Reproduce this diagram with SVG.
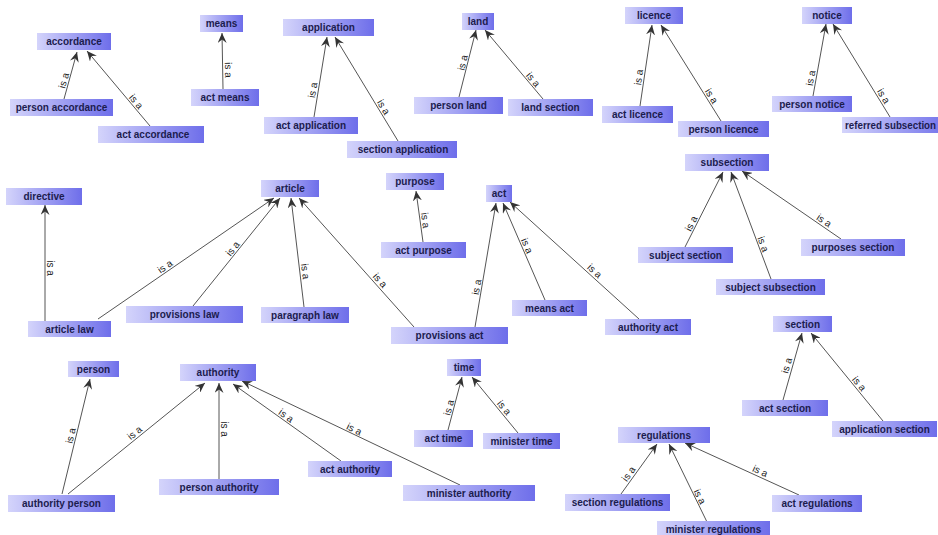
<svg xmlns="http://www.w3.org/2000/svg" width="938" height="535" viewBox="0 0 938 535">
<defs>
<linearGradient id="g" x1="0" y1="0" x2="1" y2="0">
<stop offset="0" stop-color="#d4d4fb"/>
<stop offset="1" stop-color="#6e6eea"/>
</linearGradient>
<marker id="arr" viewBox="0 0 10 9" refX="10" refY="4.5" markerWidth="10" markerHeight="9" markerUnits="userSpaceOnUse" orient="auto">
<path d="M0,0 L10,4.5 L0,9 L3.5,4.5 z" fill="#333"/>
</marker>
<style>
.n rect{fill:url(#g)}
.n text{font-family:"Liberation Sans",Arial,sans-serif;font-size:10px;font-weight:bold;fill:#1c1c4e;text-anchor:middle}
#edges line{stroke:#555;stroke-width:1;marker-end:url(#arr)}
#edges text{font-family:"Liberation Sans",Arial,sans-serif;font-size:10px;fill:#222;text-anchor:middle}
</style>
</defs>
<rect width="938" height="535" fill="#fff"/>
<g id="edges">
<line x1="64" y1="99" x2="77" y2="52"/><text transform="translate(69,82) rotate(-74.5)" y="-2">is a</text>
<line x1="150" y1="126" x2="87" y2="51"/><text transform="translate(132,105) rotate(50)" y="-2">is a</text>
<line x1="223" y1="89" x2="222" y2="33"/><text transform="translate(223,70) rotate(89)" y="-2">is a</text>
<line x1="314" y1="117" x2="327" y2="37"/><text transform="translate(318,91) rotate(-80.8)" y="-2">is a</text>
<line x1="398" y1="141" x2="335" y2="37"/><text transform="translate(379,110) rotate(58.8)" y="-2">is a</text>
<line x1="459" y1="97" x2="476" y2="30"/><text transform="translate(468,64) rotate(-75.8)" y="-2">is a</text>
<line x1="543" y1="99" x2="485" y2="30"/><text transform="translate(529,83) rotate(50)" y="-2">is a</text>
<line x1="640" y1="106" x2="652" y2="25"/><text transform="translate(644,78) rotate(-81.6)" y="-2">is a</text>
<line x1="721" y1="121" x2="661" y2="25"/><text transform="translate(707,99) rotate(58)" y="-2">is a</text>
<line x1="813" y1="96" x2="826" y2="24"/><text transform="translate(816,79) rotate(-79.8)" y="-2">is a</text>
<line x1="890" y1="117" x2="833" y2="24"/><text transform="translate(879,99) rotate(58.5)" y="-2">is a</text>
<line x1="45" y1="321" x2="45" y2="205"/><text transform="translate(45,268) rotate(90)" y="-2">is a</text>
<line x1="98" y1="319" x2="274" y2="198"/><text transform="translate(168,271) rotate(-34.5)" y="-2">is a</text>
<line x1="193" y1="306" x2="280" y2="198"/><text transform="translate(237,252) rotate(-51.1)" y="-2">is a</text>
<line x1="304" y1="307" x2="291" y2="198"/><text transform="translate(300,272) rotate(83.2)" y="-2">is a</text>
<line x1="414" y1="327" x2="299" y2="198"/><text transform="translate(376,284) rotate(48.3)" y="-2">is a</text>
<line x1="423" y1="242" x2="416" y2="191"/><text transform="translate(420,221) rotate(82.2)" y="-2">is a</text>
<line x1="475" y1="327" x2="496" y2="203"/><text transform="translate(482,288) rotate(-80.4)" y="-2">is a</text>
<line x1="545" y1="300" x2="503" y2="203"/><text transform="translate(522,248) rotate(66.6)" y="-2">is a</text>
<line x1="639" y1="319" x2="510" y2="202"/><text transform="translate(591,275) rotate(42.2)" y="-2">is a</text>
<line x1="685" y1="247" x2="723" y2="172"/><text transform="translate(696,226) rotate(-63.1)" y="-2">is a</text>
<line x1="771" y1="279" x2="731" y2="172"/><text transform="translate(758,246) rotate(69.5)" y="-2">is a</text>
<line x1="841" y1="239" x2="742" y2="171"/><text transform="translate(821,225) rotate(34.5)" y="-2">is a</text>
<line x1="783" y1="400" x2="802" y2="333"/><text transform="translate(792,367) rotate(-74.2)" y="-2">is a</text>
<line x1="883" y1="421" x2="811" y2="333"/><text transform="translate(855,387) rotate(50.7)" y="-2">is a</text>
<line x1="621" y1="494" x2="657" y2="444"/><text transform="translate(633,477) rotate(-54.2)" y="-2">is a</text>
<line x1="707" y1="522" x2="669" y2="444"/><text transform="translate(695,499) rotate(64)" y="-2">is a</text>
<line x1="799" y1="495" x2="685" y2="443"/><text transform="translate(758,476) rotate(24.5)" y="-2">is a</text>
<line x1="62" y1="494" x2="90" y2="379"/><text transform="translate(76,437) rotate(-76.3)" y="-2">is a</text>
<line x1="68" y1="494" x2="205" y2="383"/><text transform="translate(138,437) rotate(-39)" y="-2">is a</text>
<line x1="219" y1="479" x2="219" y2="383"/><text transform="translate(219,429) rotate(90)" y="-2">is a</text>
<line x1="341" y1="461" x2="233" y2="384"/><text transform="translate(283,420) rotate(35.5)" y="-2">is a</text>
<line x1="460" y1="485" x2="242" y2="381"/><text transform="translate(352,434) rotate(25.5)" y="-2">is a</text>
<line x1="448" y1="430" x2="462" y2="377"/><text transform="translate(454,409) rotate(-75.2)" y="-2">is a</text>
<line x1="518" y1="433" x2="472" y2="377"/><text transform="translate(500,411) rotate(50.6)" y="-2">is a</text>
</g>
<g id="n-accordance" class="n"><rect x="37" y="33" width="74" height="17"/><text x="74" y="45">accordance</text></g>
<g id="n-means" class="n"><rect x="200" y="15" width="43" height="17"/><text x="221.5" y="27">means</text></g>
<g id="n-application" class="n"><rect x="283" y="19" width="91" height="17"/><text x="328.5" y="31">application</text></g>
<g id="n-land" class="n"><rect x="462" y="13" width="32" height="17"/><text x="478" y="25">land</text></g>
<g id="n-licence" class="n"><rect x="625" y="7" width="58" height="17"/><text x="654" y="19">licence</text></g>
<g id="n-notice" class="n"><rect x="802" y="7" width="50" height="17"/><text x="827" y="19">notice</text></g>
<g id="n-person-accordance" class="n"><rect x="10" y="99" width="103" height="17"/><text x="61.5" y="111">person accordance</text></g>
<g id="n-act-accordance" class="n"><rect x="98" y="126" width="106" height="17"/><text x="153" y="138">act accordance</text></g>
<g id="n-act-means" class="n"><rect x="191" y="89" width="68" height="17"/><text x="225" y="101">act means</text></g>
<g id="n-act-application" class="n"><rect x="264" y="117" width="94" height="17"/><text x="311" y="129">act application</text></g>
<g id="n-section-application" class="n"><rect x="347" y="141" width="110" height="17"/><text x="403" y="153">section application</text></g>
<g id="n-person-land" class="n"><rect x="414" y="97" width="89" height="17"/><text x="458.5" y="109">person land</text></g>
<g id="n-land-section" class="n"><rect x="508" y="99" width="85" height="17"/><text x="550.5" y="111">land section</text></g>
<g id="n-act-licence" class="n"><rect x="602" y="106" width="71" height="17"/><text x="637.5" y="118">act licence</text></g>
<g id="n-person-licence" class="n"><rect x="678" y="121" width="91" height="16"/><text x="723.5" y="132.5">person licence</text></g>
<g id="n-person-notice" class="n"><rect x="772" y="96" width="80" height="16"/><text x="812" y="107.5">person notice</text></g>
<g id="n-referred-subsection" class="n"><rect x="842" y="117" width="110" height="16"/><text x="845" y="128.5" style="text-anchor:start" textLength="91" lengthAdjust="spacingAndGlyphs">referred subsection</text></g>
<g id="n-directive" class="n"><rect x="6" y="188" width="76" height="17"/><text x="44" y="200">directive</text></g>
<g id="n-article" class="n"><rect x="261" y="180" width="58" height="17"/><text x="290" y="192">article</text></g>
<g id="n-purpose" class="n"><rect x="386" y="173" width="58" height="17"/><text x="415" y="185">purpose</text></g>
<g id="n-act" class="n"><rect x="486" y="185" width="26" height="17"/><text x="499" y="197">act</text></g>
<g id="n-subsection" class="n"><rect x="685" y="154" width="84" height="17"/><text x="727" y="166">subsection</text></g>
<g id="n-article-law" class="n"><rect x="28" y="321" width="83" height="16"/><text x="69.5" y="332.5">article law</text></g>
<g id="n-provisions-law" class="n"><rect x="126" y="306" width="117" height="17"/><text x="184.5" y="318">provisions law</text></g>
<g id="n-paragraph-law" class="n"><rect x="261" y="307" width="88" height="16"/><text x="305" y="318.5">paragraph law</text></g>
<g id="n-provisions-act" class="n"><rect x="391" y="327" width="117" height="17"/><text x="449.5" y="339">provisions act</text></g>
<g id="n-act-purpose" class="n"><rect x="381" y="242" width="85" height="16"/><text x="423.5" y="253.5">act purpose</text></g>
<g id="n-means-act" class="n"><rect x="512" y="300" width="75" height="16"/><text x="549.5" y="311.5">means act</text></g>
<g id="n-authority-act" class="n"><rect x="605" y="319" width="86" height="16"/><text x="648" y="330.5">authority act</text></g>
<g id="n-subject-section" class="n"><rect x="638" y="247" width="95" height="16"/><text x="685.5" y="258.5">subject section</text></g>
<g id="n-subject-subsection" class="n"><rect x="716" y="279" width="109" height="16"/><text x="770.5" y="290.5">subject subsection</text></g>
<g id="n-purposes-section" class="n"><rect x="801" y="239" width="104" height="17"/><text x="853" y="251">purposes section</text></g>
<g id="n-section" class="n"><rect x="773" y="316" width="59" height="16"/><text x="802.5" y="327.5">section</text></g>
<g id="n-act-section" class="n"><rect x="742" y="400" width="86" height="16"/><text x="785" y="411.5">act section</text></g>
<g id="n-application-section" class="n"><rect x="832" y="421" width="105" height="16"/><text x="884.5" y="432.5">application section</text></g>
<g id="n-regulations" class="n"><rect x="618" y="427" width="92" height="16"/><text x="664" y="438.5">regulations</text></g>
<g id="n-section-regulations" class="n"><rect x="565" y="494" width="105" height="17"/><text x="617.5" y="506">section regulations</text></g>
<g id="n-minister-regulations" class="n"><rect x="657" y="521" width="113" height="17"/><text x="713.5" y="532.5">minister regulations</text></g>
<g id="n-act-regulations" class="n"><rect x="772" y="495" width="90" height="17"/><text x="817" y="507">act regulations</text></g>
<g id="n-person" class="n"><rect x="68" y="361" width="51" height="16"/><text x="93.5" y="372.5">person</text></g>
<g id="n-authority" class="n"><rect x="180" y="364" width="76" height="17"/><text x="218" y="376">authority</text></g>
<g id="n-authority-person" class="n"><rect x="8" y="495" width="107" height="17"/><text x="61.5" y="507">authority person</text></g>
<g id="n-person-authority" class="n"><rect x="159" y="479" width="120" height="16"/><text x="219" y="490.5">person authority</text></g>
<g id="n-act-authority" class="n"><rect x="308" y="461" width="84" height="16"/><text x="350" y="472.5">act authority</text></g>
<g id="n-minister-authority" class="n"><rect x="403" y="485" width="132" height="16"/><text x="469" y="496.5">minister authority</text></g>
<g id="n-time" class="n"><rect x="447" y="359" width="34" height="17"/><text x="464" y="371">time</text></g>
<g id="n-act-time" class="n"><rect x="414" y="430" width="59" height="17"/><text x="443.5" y="442">act time</text></g>
<g id="n-minister-time" class="n"><rect x="483" y="433" width="77" height="16"/><text x="521.5" y="444.5">minister time</text></g>
</svg>
